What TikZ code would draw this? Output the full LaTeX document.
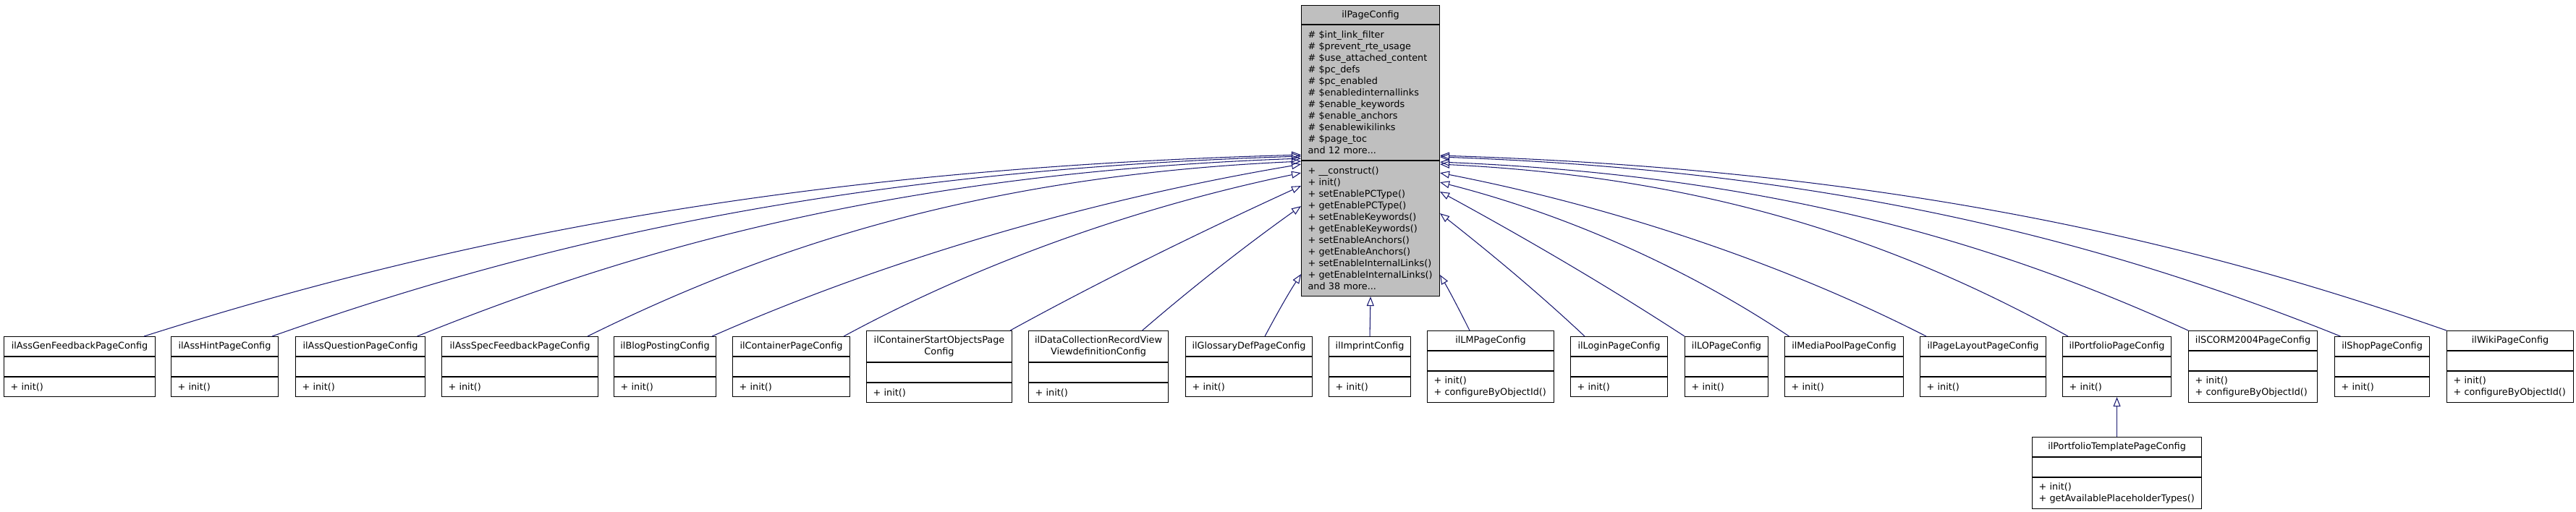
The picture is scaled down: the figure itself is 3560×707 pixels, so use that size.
\documentclass[tikz,border=0pt]{standalone}
\usepackage{fontspec}
\usetikzlibrary{positioning,arrows.meta}
\newfontfamily\umlfam{DejaVu Sans}
\newcommand\umlfont{\umlfam\fontsize{7.3}{9.1}\selectfont}
\definecolor{edgeblue}{HTML}{191970}
\definecolor{basegray}{HTML}{BFBFBF}
\tikzstyle{cls}=[draw=black, line width=0.6pt, fill=white, inner ysep=0pt, font=\umlfont]
\tikzstyle{one}=[minimum height=0.54cm]
\tikzstyle{two}=[minimum height=0.85cm]
\tikzstyle{base}=[fill=basegray]
\tikzstyle{inh}=[draw=edgeblue, line width=0.6pt, -{Triangle[open,length=0.26cm,width=0.2cm]}]
\tikzset{
  cname/.style={cls, inner xsep=0pt, align=center, minimum width=#1*0.02cm},
  cpart/.style={cls, inner xsep=0.18cm, align=left, text width=#1*0.02cm-0.36cm},
}
\begin{document}
\begin{tikzpicture}[x=0.02cm, y=-0.02cm]
    \useasboundingbox (0,0) rectangle (3560,707);

    \node[cname=191, base, minimum height=0.52cm, anchor=north west] (cfg) at (1798,7) {ilPageConfig};
    \node[cpart=191, base, minimum height=3.74cm, below=0pt of cfg] (cfga) {\# \$int\_link\_filter\\\# \$prevent\_rte\_usage\\\# \$use\_attached\_content\\\# \$pc\_defs\\\# \$pc\_enabled\\\# \$enabledinternallinks\\\# \$enable\_keywords\\\# \$enable\_anchors\\\# \$enablewikilinks\\\# \$page\_toc\\and 12 more...};
    \node[cpart=191, base, minimum height=3.74cm, below=0pt of cfga] (cfgm) {+ \_\_construct()\\+ init()\\+ setEnablePCType()\\+ getEnablePCType()\\+ setEnableKeywords()\\+ getEnableKeywords()\\+ setEnableAnchors()\\+ getEnableAnchors()\\+ setEnableInternalLinks()\\+ getEnableInternalLinks()\\and 38 more...};

    \node[cname=209, one, anchor=north west] (assgen) at (5,465) {ilAssGenFeedbackPageConfig};
    \node[cpart=209, one, below=0pt of assgen] (assgena) {};
    \node[cpart=209, one, below=0pt of assgena] (assgenm) {+ init()};

    \node[cname=148, one, anchor=north west] (asshint) at (236,465) {ilAssHintPageConfig};
    \node[cpart=148, one, below=0pt of asshint] (asshinta) {};
    \node[cpart=148, one, below=0pt of asshinta] (asshintm) {+ init()};

    \node[cname=179, one, anchor=north west] (assquest) at (408,465) {ilAssQuestionPageConfig};
    \node[cpart=179, one, below=0pt of assquest] (assquesta) {};
    \node[cpart=179, one, below=0pt of assquesta] (assquestm) {+ init()};

    \node[cname=216, one, anchor=north west] (assspec) at (610,465) {ilAssSpecFeedbackPageConfig};
    \node[cpart=216, one, below=0pt of assspec] (assspeca) {};
    \node[cpart=216, one, below=0pt of assspeca] (assspecm) {+ init()};

    \node[cname=141, one, anchor=north west] (blog) at (848,465) {ilBlogPostingConfig};
    \node[cpart=141, one, below=0pt of blog] (bloga) {};
    \node[cpart=141, one, below=0pt of bloga] (blogm) {+ init()};

    \node[cname=162, one, anchor=north west] (cont) at (1012,465) {ilContainerPageConfig};
    \node[cpart=162, one, below=0pt of cont] (conta) {};
    \node[cpart=162, one, below=0pt of conta] (contm) {+ init()};

    \node[cname=201, minimum height=0.86cm, anchor=north west] (contstart) at (1197,457) {ilContainerStartObjectsPage\\Config};
    \node[cpart=201, one, below=0pt of contstart] (contstarta) {};
    \node[cpart=201, one, below=0pt of contstarta] (contstartm) {+ init()};

    \node[cname=193, minimum height=0.86cm, anchor=north west] (dcl) at (1421,457) {ilDataCollectionRecordView\\ViewdefinitionConfig};
    \node[cpart=193, one, below=0pt of dcl] (dcla) {};
    \node[cpart=193, one, below=0pt of dcla] (dclm) {+ init()};

    \node[cname=175, one, anchor=north west] (gloss) at (1638,465) {ilGlossaryDefPageConfig};
    \node[cpart=175, one, below=0pt of gloss] (glossa) {};
    \node[cpart=175, one, below=0pt of glossa] (glossm) {+ init()};

    \node[cname=113, one, anchor=north west] (imprint) at (1836,465) {ilImprintConfig};
    \node[cpart=113, one, below=0pt of imprint] (imprinta) {};
    \node[cpart=113, one, below=0pt of imprinta] (imprintm) {+ init()};

    \node[cname=175, one, anchor=north west] (lm) at (1972,457) {ilLMPageConfig};
    \node[cpart=175, one, below=0pt of lm] (lma) {};
    \node[cpart=175, two, below=0pt of lma] (lmm) {+ init()\\+ configureByObjectId()};

    \node[cname=134, one, anchor=north west] (login) at (2170,465) {ilLoginPageConfig};
    \node[cpart=134, one, below=0pt of login] (logina) {};
    \node[cpart=134, one, below=0pt of logina] (loginm) {+ init()};

    \node[cname=115, one, anchor=north west] (lo) at (2328,465) {ilLOPageConfig};
    \node[cpart=115, one, below=0pt of lo] (loa) {};
    \node[cpart=115, one, below=0pt of loa] (lom) {+ init()};

    \node[cname=164, one, anchor=north west] (media) at (2466,465) {ilMediaPoolPageConfig};
    \node[cpart=164, one, below=0pt of media] (mediaa) {};
    \node[cpart=164, one, below=0pt of mediaa] (mediam) {+ init()};

    \node[cname=174, one, anchor=north west] (layout) at (2653,465) {ilPageLayoutPageConfig};
    \node[cpart=174, one, below=0pt of layout] (layouta) {};
    \node[cpart=174, one, below=0pt of layouta] (layoutm) {+ init()};

    \node[cname=150, one, anchor=north west] (port) at (2850,465) {ilPortfolioPageConfig};
    \node[cpart=150, one, below=0pt of port] (porta) {};
    \node[cpart=150, one, below=0pt of porta] (portm) {+ init()};

    \node[cname=178, one, anchor=north west] (scorm) at (3024,457) {ilSCORM2004PageConfig};
    \node[cpart=178, one, below=0pt of scorm] (scorma) {};
    \node[cpart=178, two, below=0pt of scorma] (scormm) {+ init()\\+ configureByObjectId()};

    \node[cname=131, one, anchor=north west] (shop) at (3226,465) {ilShopPageConfig};
    \node[cpart=131, one, below=0pt of shop] (shopa) {};
    \node[cpart=131, one, below=0pt of shopa] (shopm) {+ init()};

    \node[cname=175, one, anchor=north west] (wiki) at (3381,457) {ilWikiPageConfig};
    \node[cpart=175, one, below=0pt of wiki] (wikia) {};
    \node[cpart=175, two, below=0pt of wikia] (wikim) {+ init()\\+ configureByObjectId()};

    \node[cname=234, one, anchor=north west] (tmpl) at (2808,604) {ilPortfolioTemplatePageConfig};
    \node[cpart=234, one, below=0pt of tmpl] (tmpla) {};
    \node[cpart=234, two, below=0pt of tmpla] (tmplm) {+ init()\\+ getAvailablePlaceholderTypes()};

    \draw[inh] ([xshift=-0.32cm]assgen.north east) .. controls +(400,-127) and +(-720,20) .. ([yshift=0.16cm]cfga.south west);
    \draw[inh] ([xshift=-0.18cm]asshint.north east) .. controls +(356,-126) and +(-640,20) .. ([yshift=0.12cm]cfga.south west);
    \draw[inh] ([xshift=-0.23cm]assquest.north east) .. controls +(306,-124) and +(-550,20) .. ([yshift=0.06cm]cfga.south west);
    \draw[inh] ([xshift=-0.3cm]assspec.north east) .. controls +(247,-122) and +(-444,20) .. ([yshift=-0.02cm]cfga.south west);
    \draw[inh] ([xshift=-0.12cm]blog.north east) .. controls +(245,-108) and +(-285,48) .. ([yshift=-0.1cm]cfga.south west);
    \draw[inh] ([xshift=-0.18cm]cont.north east) .. controls +(190,-103) and +(-222,46) .. ([yshift=-0.34cm]cfga.south west);
    \draw[inh] ([xshift=-0.06cm]contstart.north east) .. controls +(133,-73) and +(-133,61) .. ([yshift=-0.7cm]cfga.south west);
    \draw[inh] ([xshift=-0.73cm]dcl.north east) .. controls +(73,-63) and +(-73,52) .. ([yshift=-1.26cm]cfga.south west);
    \draw[inh] ([xshift=-1.32cm]gloss.north east) .. controls +(17,-32) and +(-17,26) .. ([yshift=-3.14cm]cfga.south west);
    \draw[inh] (imprint.north) -- (cfgm.south);
    \draw[inh] ([xshift=1.18cm]lm.north west) .. controls +(-14,-28) and +(14,24) .. ([yshift=-3.16cm]cfga.south east);
    \draw[inh] ([xshift=0.4cm]login.north west) .. controls +(-66,-62) and +(66,52) .. ([yshift=-1.46cm]cfga.south east);
    \draw[inh] (lo.north west) .. controls +(-112,-73) and +(112,61) .. ([yshift=-0.86cm]cfga.south east);
    \draw[inh] ([xshift=0.13cm]media.north west) .. controls +(-145,-97) and +(169,43) .. ([yshift=-0.6cm]cfga.south east);
    \draw[inh] ([xshift=0.18cm]layout.north west) .. controls +(-202,-103) and +(236,46) .. ([yshift=-0.34cm]cfga.south east);
    \draw[inh] ([xshift=0.16cm]port.north west) .. controls +(-217,-120) and +(391,19) .. ([yshift=-0.1cm]cfga.south east);
    \draw[inh] (scorm.north west) .. controls +(-258,-118) and +(465,19) .. ([yshift=-0.04cm]cfga.south east);
    \draw[inh] ([xshift=0.17cm]shop.north west) .. controls +(-311,-125) and +(560,20) .. ([yshift=0.1cm]cfga.south east);
    \draw[inh] (wiki.north west) .. controls +(-348,-122) and +(626,20) .. ([yshift=0.14cm]cfga.south east);
    \draw[inh] (tmpl.north) -- (portm.south);
\end{tikzpicture}
\end{document}
